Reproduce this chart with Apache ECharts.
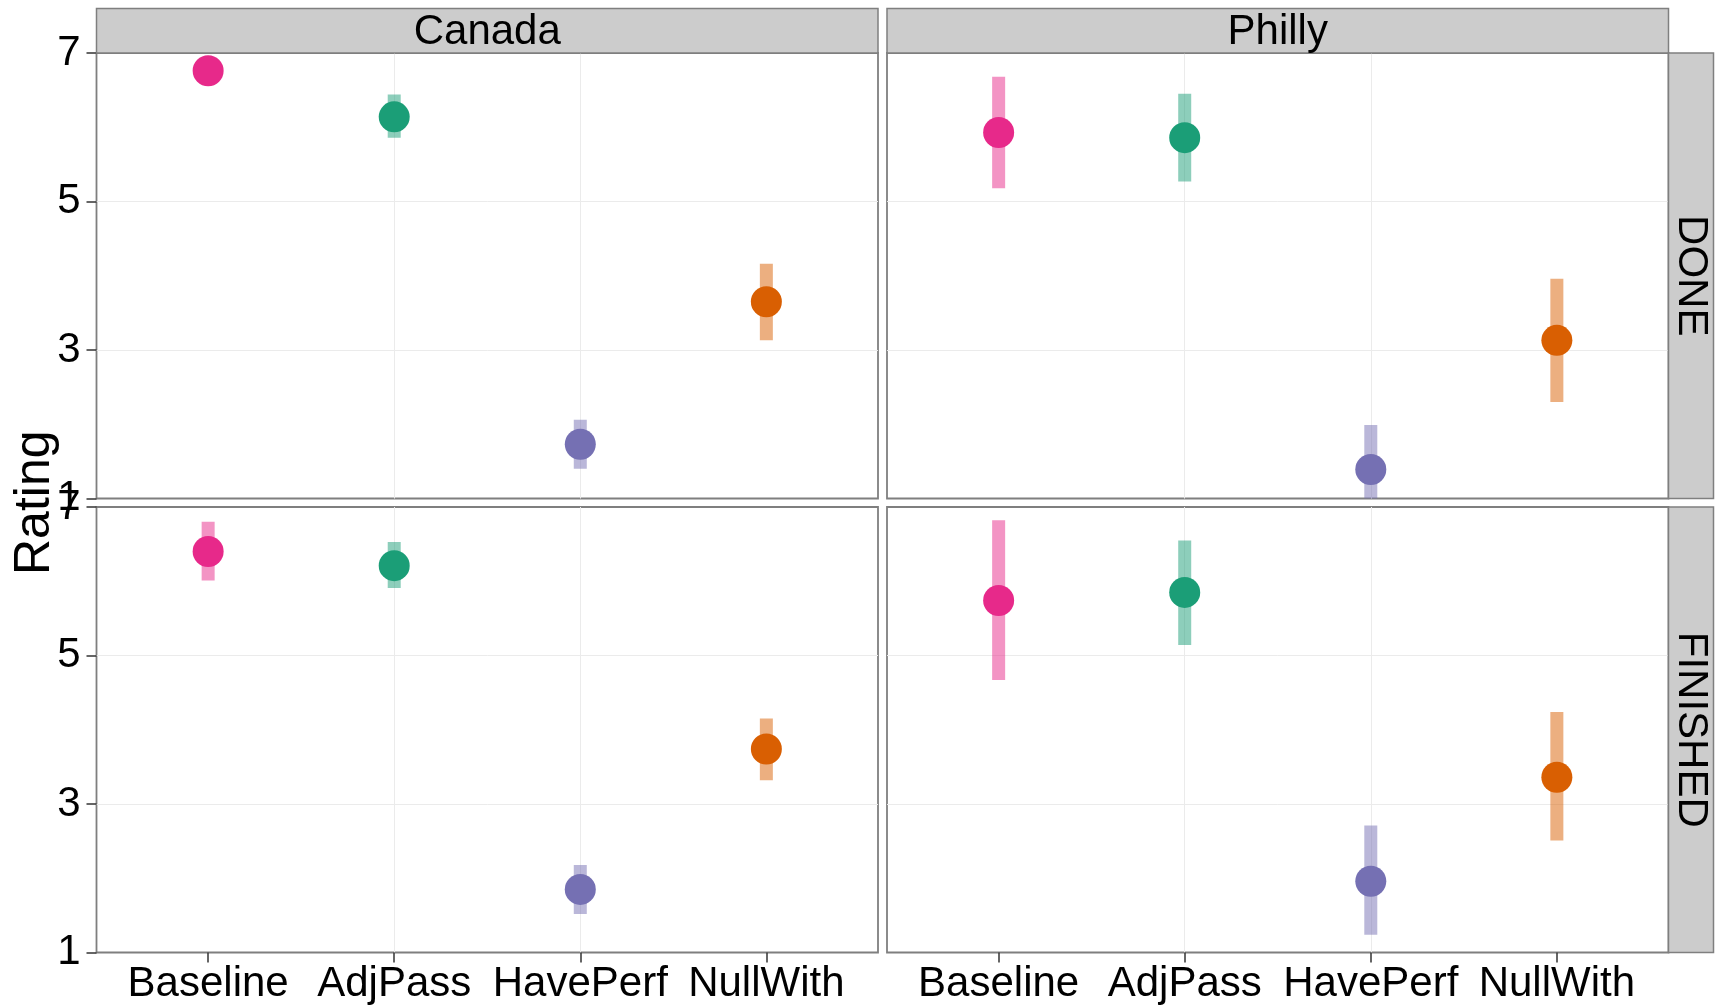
<!DOCTYPE html>
<html>
<head>
<meta charset="utf-8">
<script src="https://cdn.jsdelivr.net/npm/echarts@6/dist/echarts.min.js"></script>
<style>
html,body{margin:0;padding:0;background:#fff;}
#chart{width:1723px;height:1007px;}
</style>
</head>
<body>
<div id="chart"></div>
<script>
// ---- data ----
const categories = ['Baseline', 'AdjPass', 'HavePerf', 'NullWith'];
const sites = ['Canada', 'Philly'];
const measures = ['DONE', 'FINISHED'];
const yTicks = [1, 3, 5, 7];

const canadaDoneMean = [6.76, 6.14, 1.73, 3.65];
const canadaDoneLo   = [6.62, 5.86, 1.40, 3.13];
const canadaDoneHi   = [6.88, 6.44, 2.06, 4.16];

const phillyDoneMean = [5.93, 5.86, 1.39, 3.13];
const phillyDoneLo   = [5.18, 5.27, 0.80, 2.30];
const phillyDoneHi   = [6.68, 6.45, 1.99, 3.96];

const canadaFinMean  = [6.40, 6.21, 1.85, 3.74];
const canadaFinLo    = [6.01, 5.91, 1.52, 3.32];
const canadaFinHi    = [6.80, 6.53, 2.18, 4.15];

const phillyFinMean  = [5.74, 5.85, 1.96, 3.36];
const phillyFinLo    = [4.67, 5.14, 1.24, 2.51];
const phillyFinHi    = [6.82, 6.55, 2.71, 4.24];

// ---- styling / layout ----
const pointColors = ['#E7298A', '#1B9E77', '#7570B3', '#D95F02'];
const FONT = 'Liberation Sans, Arial, Helvetica, sans-serif';
const colLeft = [96.5, 887];
const colWidth = 781.5;
const rowTop = [53, 507];
const rowHeight = 445.5;
const stripTop = 8.5;
const stripRight = 45;
const borderCol = '#7f7f7f';
const gridCol = '#ebebeb';
const fs = 42;

const panels = [
  { site: 0, measure: 0, mean: canadaDoneMean, lo: canadaDoneLo, hi: canadaDoneHi },
  { site: 1, measure: 0, mean: phillyDoneMean, lo: phillyDoneLo, hi: phillyDoneHi },
  { site: 0, measure: 1, mean: canadaFinMean, lo: canadaFinLo, hi: canadaFinHi },
  { site: 1, measure: 1, mean: phillyFinMean, lo: phillyFinLo, hi: phillyFinHi }
];

const catPos = categories.map((c, i) => i + 1);

const grid = [], xAxis = [], yAxis = [], series = [], graphic = [];

panels.forEach((p, i) => {
  const isLeft = p.site === 0;
  const isBottom = p.measure === 1;
  grid.push({
    left: colLeft[p.site], top: rowTop[p.measure], width: colWidth, height: rowHeight,
    show: true, borderColor: borderCol, borderWidth: 1.8, backgroundColor: '#fff'
  });
  xAxis.push({
    gridIndex: i, type: 'value', min: 0.4, max: 4.6,
    axisLine: { show: false },
    axisTick: { show: isBottom, customValues: catPos, length: 10, lineStyle: { color: '#333', width: 1.5 } },
    axisLabel: {
      show: isBottom, customValues: catPos, fontSize: fs, color: '#000', fontFamily: FONT, margin: 11,
      formatter: v => categories[Math.round(v) - 1] || ''
    },
    splitLine: { show: true, showMinLine: false, showMaxLine: false, lineStyle: { color: gridCol, width: 1 } }
  });
  yAxis.push({
    gridIndex: i, type: 'value', min: 1, max: 7, interval: 2,
    axisLine: { show: false },
    axisTick: { show: isLeft, length: 10, lineStyle: { color: '#333', width: 1.5 } },
    axisLabel: { show: isLeft, fontSize: fs, color: '#000', fontFamily: FONT, margin: 16 },
    splitLine: { show: true, showMinLine: false, showMaxLine: false, lineStyle: { color: gridCol, width: 1 } }
  });
  series.push({
    type: 'custom', xAxisIndex: i, yAxisIndex: i, clip: true, z: 2,
    data: catPos.map((x, k) => [x, p.lo[k], p.hi[k]]),
    renderItem: (params, api) => {
      const x = api.value(0);
      const top = api.coord([x, api.value(2)]);
      const bot = api.coord([x, api.value(1)]);
      const w = 13;
      return {
        type: 'rect',
        shape: { x: top[0] - w / 2, y: top[1], width: w, height: bot[1] - top[1] },
        style: { fill: pointColors[Math.round(x) - 1], opacity: 0.5 }
      };
    }
  });
  series.push({
    type: 'scatter', xAxisIndex: i, yAxisIndex: i, z: 3, clip: true,
    symbol: 'circle', symbolSize: 31,
    data: catPos.map((x, k) => [x, p.mean[k]]),
    itemStyle: { color: params => pointColors[params.dataIndex], opacity: 1 }
  });
});

// facet strips (top)
sites.forEach((s, c) => {
  graphic.push({
    type: 'rect', z: 10,
    shape: { x: colLeft[c], y: stripTop, width: colWidth, height: rowTop[0] - stripTop },
    style: { fill: '#cccccc', stroke: borderCol, lineWidth: 1.5 }
  });
  graphic.push({
    type: 'text', z: 11,
    x: colLeft[c] + colWidth / 2, y: (stripTop + rowTop[0]) / 2 + 2,
    style: { text: s, fontSize: fs, fontFamily: FONT, fill: '#000', align: 'center', verticalAlign: 'middle' }
  });
});
// facet strips (right)
measures.forEach((m, r) => {
  const sx = colLeft[1] + colWidth;
  graphic.push({
    type: 'rect', z: 10,
    shape: { x: sx, y: rowTop[r], width: stripRight, height: rowHeight },
    style: { fill: '#cccccc', stroke: borderCol, lineWidth: 1.5 }
  });
  graphic.push({
    type: 'text', z: 11,
    x: sx + stripRight / 2, y: rowTop[r] + rowHeight / 2, rotation: -Math.PI / 2,
    style: { text: m, fontSize: fs, fontFamily: FONT, fill: '#000', align: 'center', verticalAlign: 'middle' }
  });
});
// y axis title
graphic.push({
  type: 'text', z: 11, x: 35, y: (rowTop[0] + rowTop[1] + rowHeight) / 2, rotation: Math.PI / 2,
  style: { text: 'Rating', fontSize: 50, fontFamily: FONT, fill: '#000', align: 'center', verticalAlign: 'middle' }
});

const chart = echarts.init(document.getElementById('chart'), null, { renderer: 'canvas' });
chart.setOption({
  backgroundColor: '#fff',
  animation: false,
  grid, xAxis, yAxis, series, graphic
});
</script>
</body>
</html>
